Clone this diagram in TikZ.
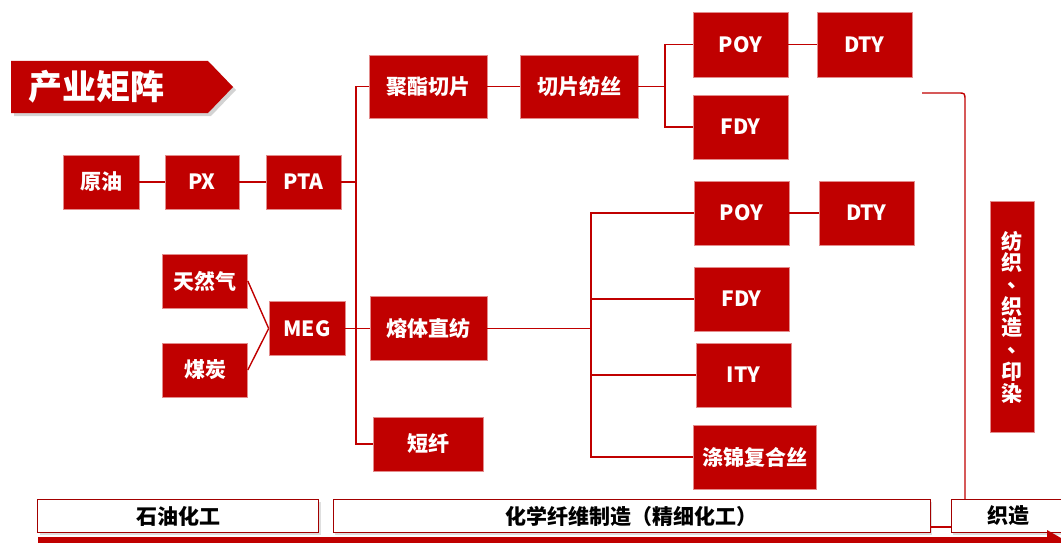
\documentclass[tikz,border=0pt]{standalone}
\usepackage{fontspec}
\setmainfont{Noto Sans CJK SC}
\usetikzlibrary{shadows}
\definecolor{zred}{RGB}{192,0,0}
\newcommand\vdun{\makebox[1em][l]{\hspace{0.3em}\smash{\raisebox{0.25em}{、}}}}
\tikzset{
  box/.style={fill=zred, draw=zred!45, line width=0.6pt, text=white, inner sep=0pt,
    font=\fontsize{21}{25}\selectfont\bfseries, minimum width=95pt, minimum height=64pt},
  sbox/.style={box, minimum width=76pt, minimum height=54pt},
  band/.style={fill=white, draw=zred!85!black, line width=0.8pt, inner sep=0pt,
    font=\fontsize{21}{25}\selectfont\bfseries, minimum height=33pt,
    drop shadow={shadow xshift=2pt, shadow yshift=-2pt, opacity=0.25}},
  link/.style={draw=zred, line width=1.4pt}
}
\begin{document}
\begin{tikzpicture}[x=1pt, y=-1pt]
      \useasboundingbox (0,0) rectangle (1061,543);
      \fill[zred, drop shadow={shadow xshift=3pt, shadow yshift=-3pt, opacity=0.35}]
        (11,61) -- (208,61) -- (233,87) -- (208,113) -- (11,113) -- cycle;
      \node[text=white, font=\fontsize{34}{40}\selectfont\bfseries] (title) at (96,87) {产业矩阵};
      \node[sbox] (yy) at (101,182) {原油};
      \node[sbox, minimum width=74pt] (px) at (202,182) {PX};
      \node[sbox, minimum width=75pt] (pta) at (303.5,182) {PTA};
      \node[sbox, minimum width=85pt] (trq) at (205,281) {天然气};
      \node[sbox, minimum width=85pt] (mt) at (205,370) {煤炭};
      \node[sbox] (meg) at (307,328.5) {MEG};
      \node[box, minimum width=117pt] (rt) at (428.5,328.5) {熔体直纺};
      \node[sbox, minimum width=110pt] (dx) at (428,444) {短纤};
      \node[box, minimum width=118pt, minimum height=63pt] (jz) at (428,86.5) {聚酯切片};
      \node[box, minimum width=118pt, minimum height=63pt] (qp) at (579,86.5) {切片纺丝};
      \node[box, minimum height=65pt] (poya) at (740.5,44.5) {POY};
      \node[box, minimum height=65pt] (dtya) at (864.5,44.5) {DTY};
      \node[box] (fdya) at (740.5,127) {FDY};
      \node[box] (poyb) at (741.5,213) {POY};
      \node[box] (dtyb) at (866.5,213) {DTY};
      \node[box] (fdyb) at (741.5,299) {FDY};
      \node[box] (ity) at (743.5,375) {ITY};
      \node[box, minimum width=123pt] (dj) at (754.5,457) {涤锦复合丝};
      \node[box, minimum width=44pt, minimum height=231pt, align=center,
        font=\fontsize{21}{21.7}\selectfont\bfseries] (fz) at (1012,317)
        {纺\\织\\\vdun\\织\\造\\\vdun\\印\\染};
      \node[band, minimum width=281pt] (syhg) at (178,516) {石油化工};
      \node[band, minimum width=597pt] (hx) at (631.5,516) {化学纤维制造（精细化工）};
      \node[band, minimum width=114pt] (zz) at (1008,516) {织造};
      \fill[zred, drop shadow={shadow xshift=1pt, shadow yshift=-1pt, opacity=0.3}]
        (38,537) rectangle (1049,547);
      \fill[zred] (1047,530) -- (1068,542) -- (1047,554) -- cycle;
      \coordinate (k1) at (356,0);
      \coordinate (k2) at (665,0);
      \coordinate (k3) at (591,0);
      \coordinate (c0) at (922,93);
      \coordinate (c1) at (965,101);
      \begin{scope}[link]
        \draw (yy) to (px);
        \draw (px) to (pta);
        \draw (pta.east) -- (pta.east -| k1);
        \draw (jz.west) -- (jz.west -| k1) -- (dx.west -| k1) -- (dx.west);
        \draw (rt.west -| k1) to (rt.west);
        \draw (meg) to (rt);
        \draw (trq.east) to (meg.west);
        \draw (mt.east) to (meg.west);
        \draw (jz) to (qp);
        \draw (qp.east) -- (qp.east -| k2);
        \draw (poya.west) -- (poya.west -| k2) -- (fdya.west -| k2) -- (fdya.west);
        \draw (poya) to (dtya);
        \draw (rt.east) -- (rt.east -| k3);
        \draw (poyb.west) -- (poyb.west -| k3) -- (dj.west -| k3) -- (dj.west);
        \draw (fdyb.west -| k3) to (fdyb.west);
        \draw (ity.west -| k3) to (ity.west);
        \draw (poyb) to (dtyb);
        \draw (c0) -- (958,93) .. controls (965,93) .. (c1) -- (c1 |- zz.north);
        \draw ([yshift=-11pt]hx.east) to ([yshift=-11pt]zz.west);
      \end{scope}
    \end{tikzpicture}
\end{document}
